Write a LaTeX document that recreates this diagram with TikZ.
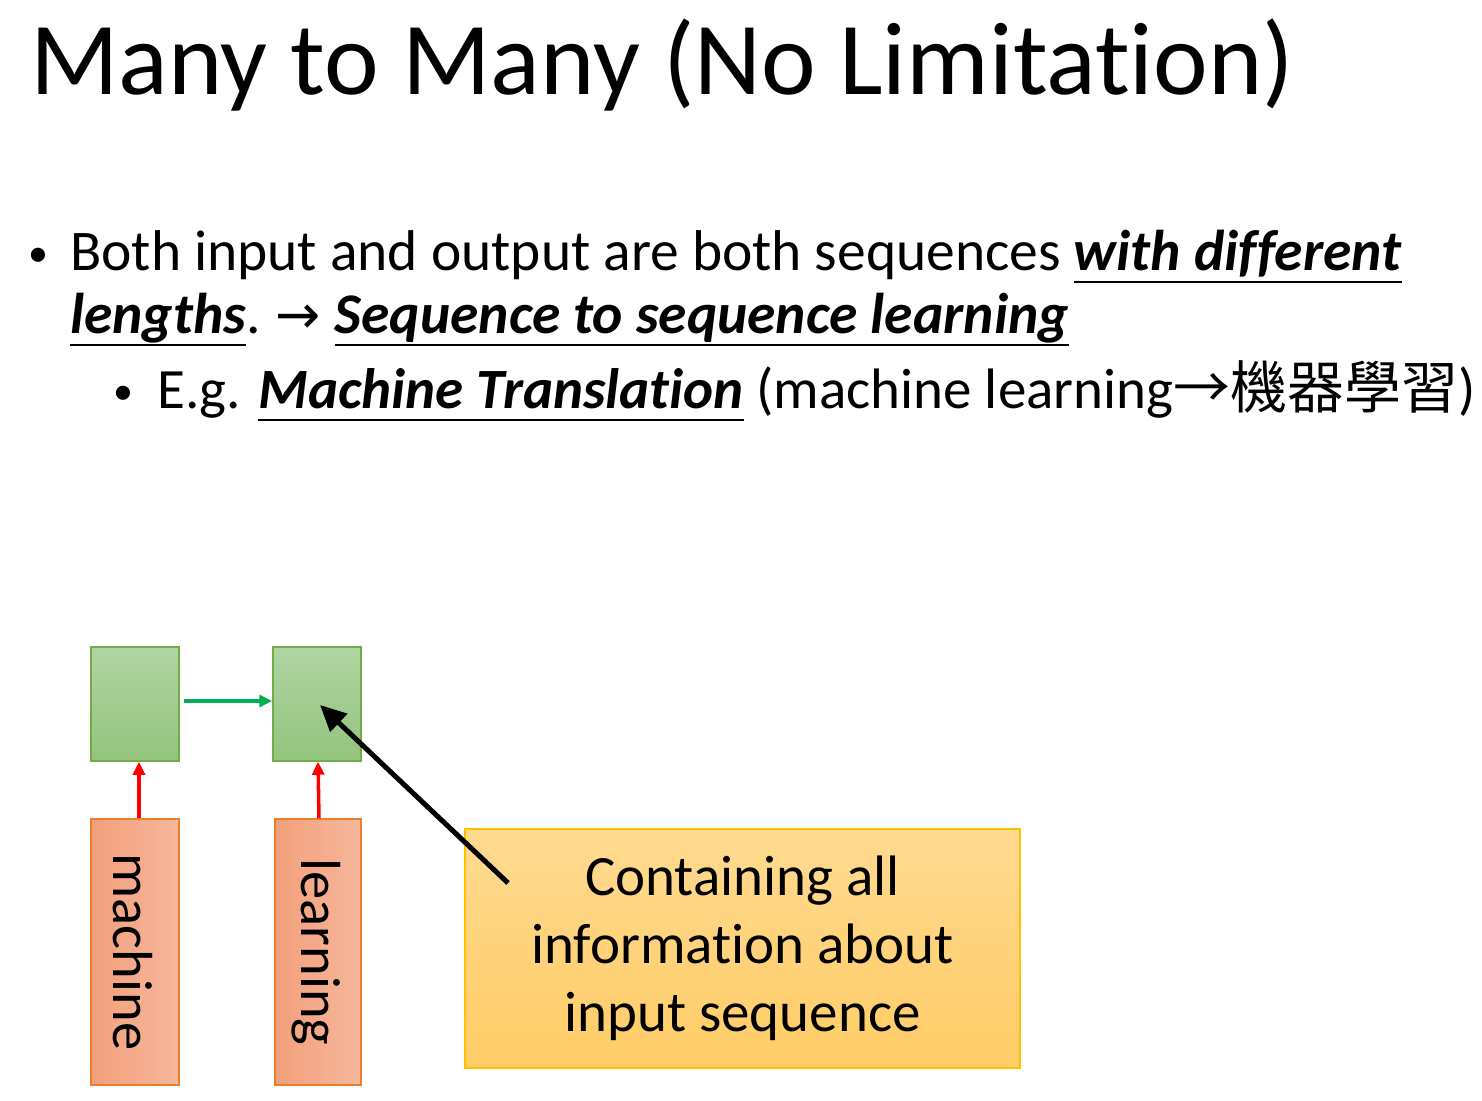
\documentclass[tikz,border=0pt]{standalone}
\usepackage{fontspec}
\setmainfont[Ligatures={NoCommon,NoRare}]{Carlito}
\newfontfamily\cjkfont{Noto Sans CJK TC}
\newfontfamily\symfont{DejaVu Sans}
\usetikzlibrary{arrows.meta}
\newcommand\ulin[1]{\setbox0\hbox{#1}\rlap{\rule[-0.23em]{\wd0}{0.045em}}\box0\relax}
\definecolor{gtop}{HTML}{B0D4A2}
\definecolor{gbot}{HTML}{93C47D}
\definecolor{gborder}{HTML}{70AD47}
\definecolor{garr}{HTML}{00B050}
\definecolor{oleft}{HTML}{F3A07C}
\definecolor{oright}{HTML}{F6B79B}
\definecolor{oborder}{HTML}{ED7D31}
\definecolor{ytop}{HTML}{FFDA91}
\definecolor{ybot}{HTML}{FFCC66}
\definecolor{yborder}{HTML}{FFC000}
\begin{document}
\begin{tikzpicture}[x=1pt,y=-1pt,
  txt/.style={anchor=base west, inner sep=0pt},
  gbox/.style={draw=gborder, line width=1.5pt, top color=gtop, bottom color=gbot, minimum width=88pt, minimum height=114pt, inner sep=0pt},
  obox/.style={draw=oborder, line width=1.5pt, left color=oleft, right color=oright, minimum width=88pt, minimum height=266pt, inner sep=0pt},
  vlabel/.style={rotate=-90, inner sep=0pt, font=\fontsize{56.5}{56.5}\selectfont},
  ybox/.style={draw=yborder, line width=1.5pt, top color=ytop, bottom color=ybot, minimum width=555pt, minimum height=239pt, inner sep=0pt, align=center, font=\fontsize{57}{68}\selectfont},
  garrow/.style={draw=garr, line width=3.5pt, -{Triangle[length=13pt,width=12pt]}},
  rarrow/.style={draw=red, line width=3.5pt, -{Triangle[length=13pt,width=12pt]}},
  barrow/.style={draw=black, line width=5pt, -{Triangle[length=26pt,width=24pt]}},
  bul/.style={anchor=base west, inner sep=0pt, font=\fontsize{40}{40}\selectfont}
]
\useasboundingbox (0,0) rectangle (1482,1100);
\fill[white] (0,0) rectangle (1482,1100);

% title
\node[txt, font=\fontsize{103.5}{103.5}\selectfont] (title) at (30,94) {Many to Many (No Limitation)};

% bullets
\node[bul] (b1) at (28,266) {•};
\node[txt, font=\fontsize{57.5}{57.5}\selectfont] (l1) at (70,270) {Both input and output are both sequences \ulin{\textbf{\textit{with different}}}};
\node[txt, font=\fontsize{57.5}{57.5}\selectfont] (l2) at (70,333) {\ulin{\textbf{\textit{lengths}}}.\hspace{0.25em}{\symfont\fontsize{54}{54}\selectfont →}\hspace{0.25em}\ulin{\textbf{\textit{Sequence to sequence learning}}}};
\node[bul] (b2) at (113,404) {•};
\node[txt, font=\fontsize{57}{57}\selectfont] (l3) at (157,408) {E.g. \ulin{\textbf{\textit{Machine Translation}}} (machine learning{\cjkfont →機器學習})};

% diagram
\node[gbox] (g1) at (135,704) {};
\node[gbox] (g2) at (317,704) {};
\node[obox] (o1) at (135,952) {};
\node[obox, minimum width=86pt] (o2) at (318,952) {};
\node[vlabel] (t1) at (133,952) {machine};
\node[vlabel] (t2) at (316,952) {learning};
\node[ybox] (y1) at (742.5,948.5) {Containing all\\information about\\input sequence};

\draw[garrow, shorten <=4pt] ([yshift=3pt]g1.east) -- ([yshift=3pt]g2.west);
\draw[rarrow] ([xshift=4pt]o1.north) -- ([xshift=4pt]g1.south);
\draw[rarrow] ([xshift=1pt]o2.north) -- ([xshift=1pt]g2.south);
\coordinate (tail) at (508,883);
\draw[barrow] (tail) -- ([xshift=3pt,yshift=-1pt]g2.center);
\end{tikzpicture}
\end{document}
